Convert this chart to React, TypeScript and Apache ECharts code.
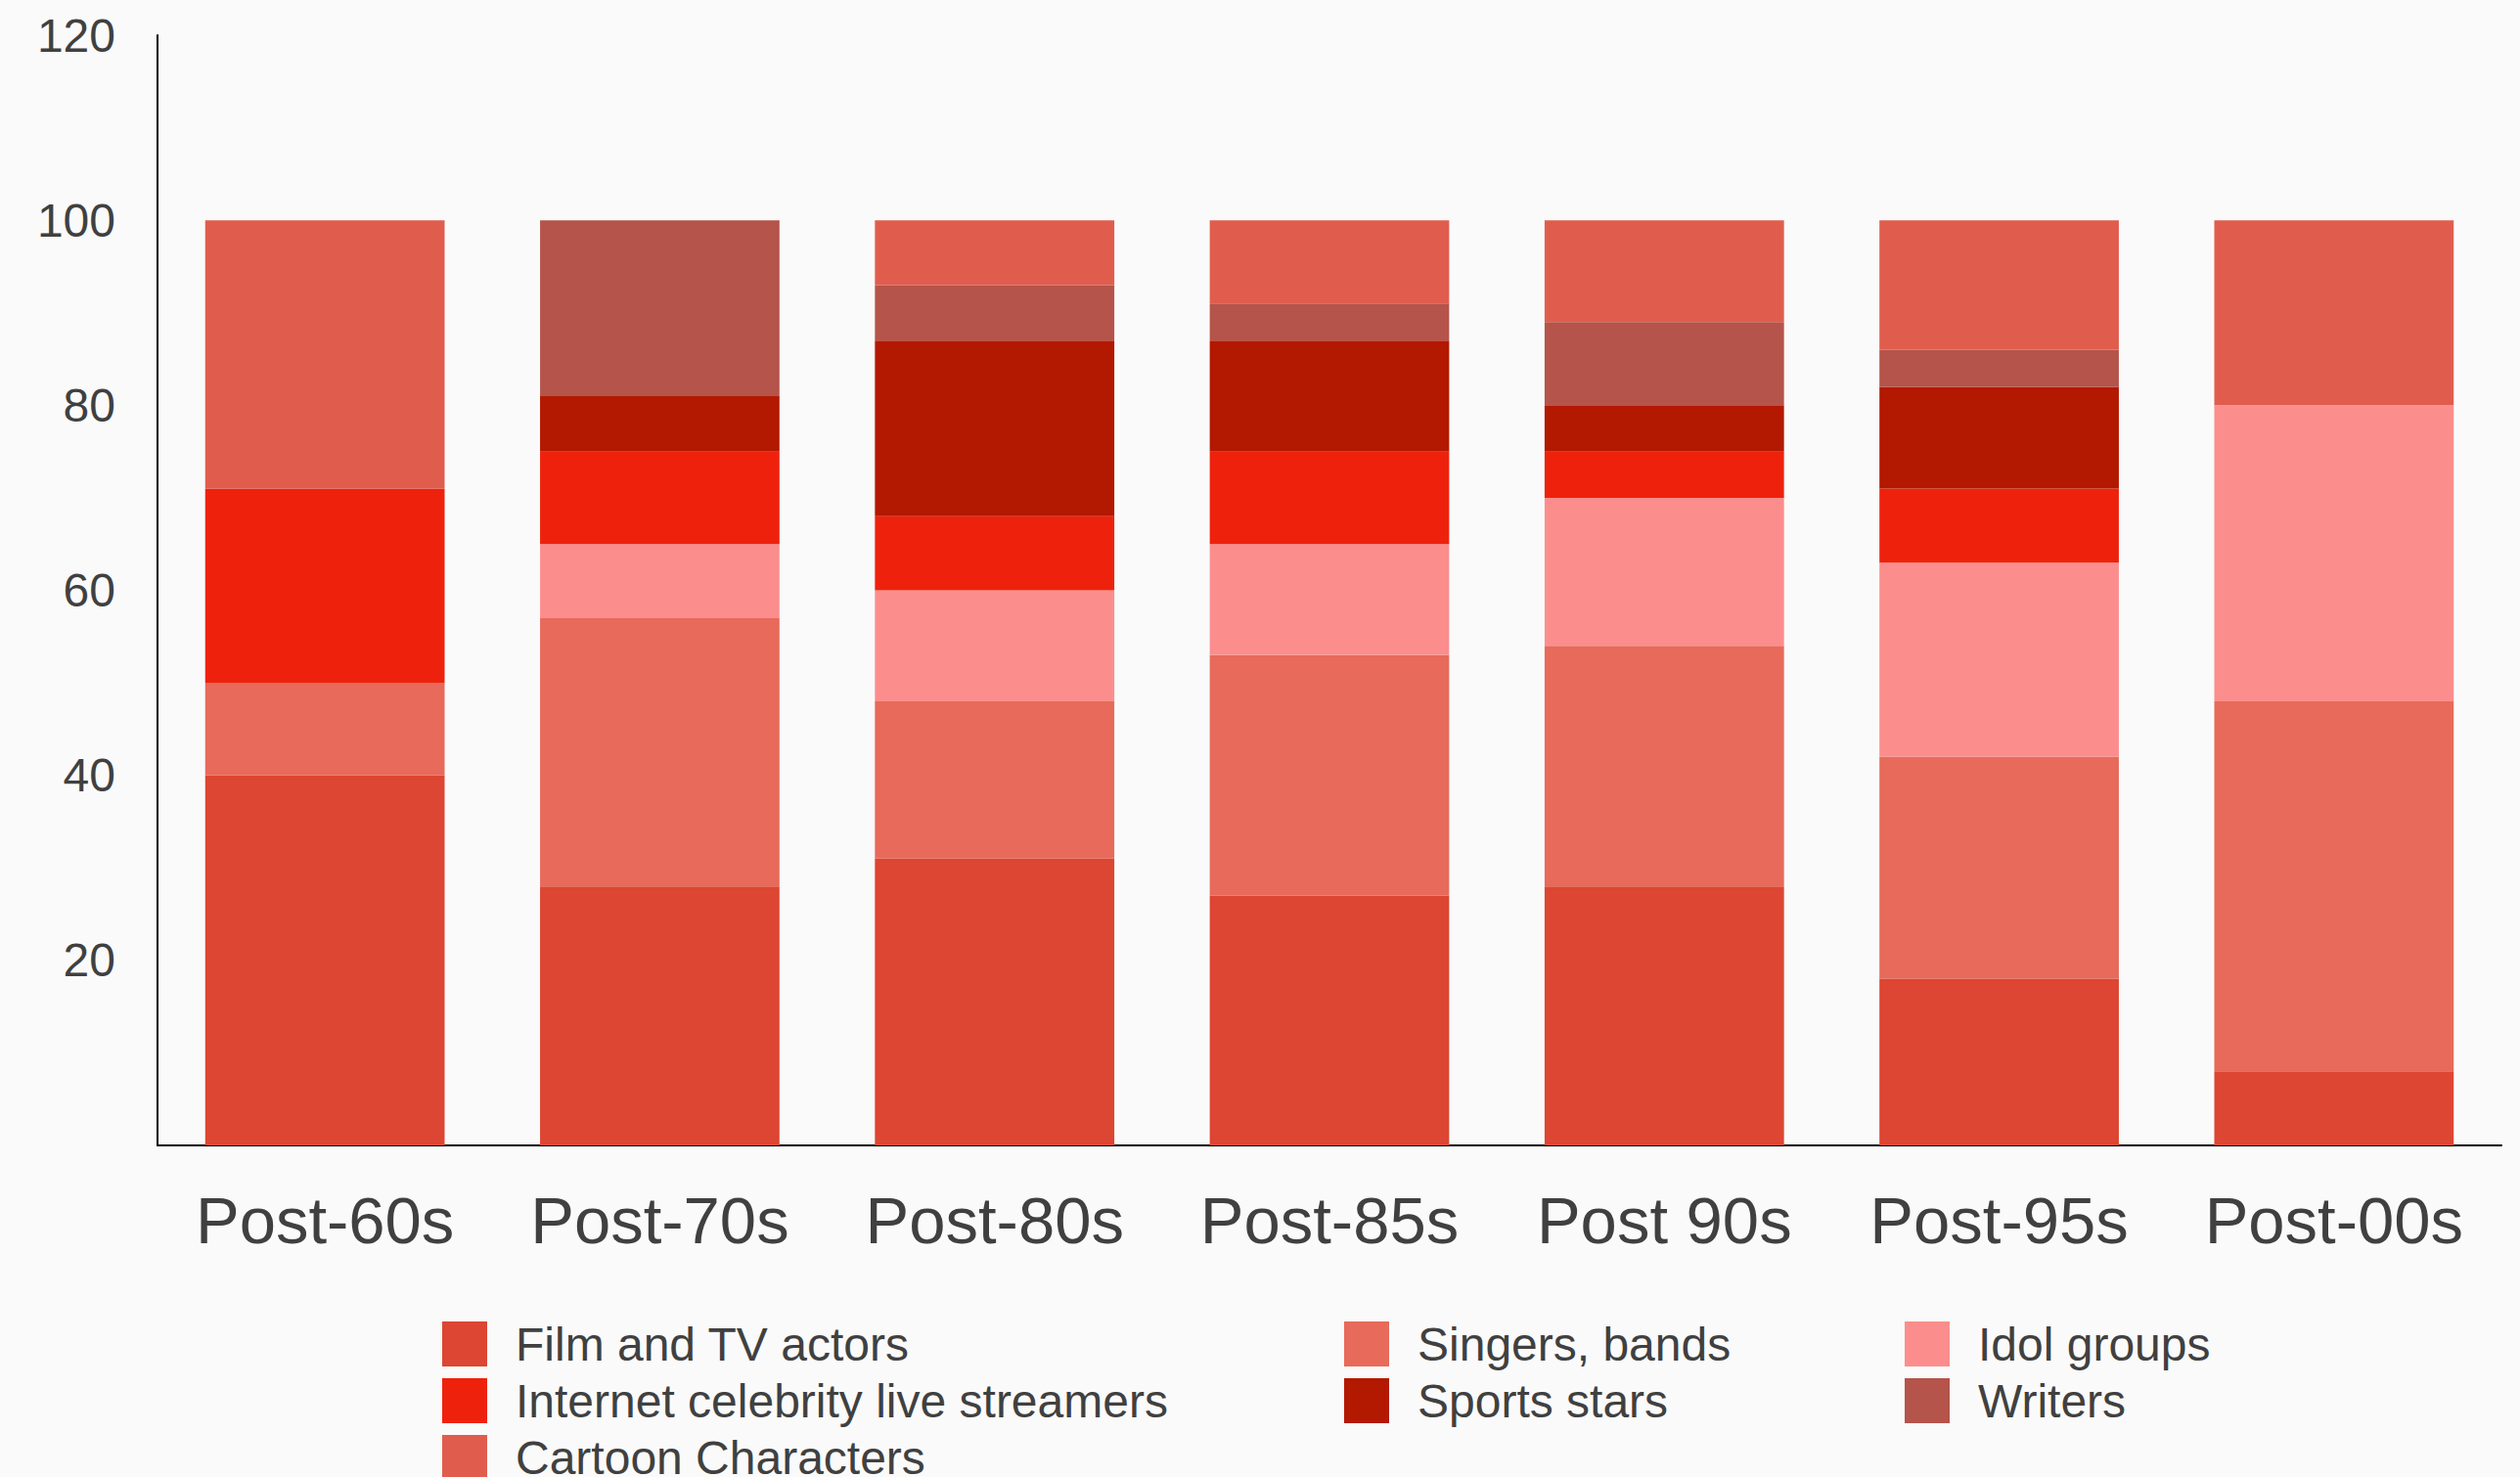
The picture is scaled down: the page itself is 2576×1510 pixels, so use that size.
import React, { useEffect, useRef } from "react";
import * as echarts from "echarts";

const categories = ["Post-60s", "Post-70s", "Post-80s", "Post-85s", "Post 90s", "Post-95s", "Post-00s"];
const filmTvActors = [40, 28, 31, 27, 28, 18, 8];
const singersBands = [10, 29, 17, 26, 26, 24, 40];
const idolGroups = [0, 8, 12, 12, 16, 21, 32];
const internetStreamers = [21, 10, 8, 10, 5, 8, 0];
const sportsStars = [0, 6, 19, 12, 5, 11, 0];
const writers = [0, 19, 6, 4, 9, 4, 0];
const cartoonCharacters = [29, 0, 7, 9, 11, 14, 20];
const yTicks = [0, 20, 40, 60, 80, 100, 120];

const seriesDefs = [
  { name: "Film and TV actors", data: filmTvActors, color: "#DC4632" },
  { name: "Singers, bands", data: singersBands, color: "#E76A5A" },
  { name: "Idol groups", data: idolGroups, color: "#FB8E8D" },
  { name: "Internet celebrity live streamers", data: internetStreamers, color: "#EE220C" },
  { name: "Sports stars", data: sportsStars, color: "#B31800" },
  { name: "Writers", data: writers, color: "#B5544A" },
  { name: "Cartoon Characters", data: cartoonCharacters, color: "#E05D4E" },
];

const legendColumns = [
  ["Film and TV actors", "Internet celebrity live streamers", "Cartoon Characters"],
  ["Singers, bands", "Sports stars"],
  ["Idol groups", "Writers"],
];
const legendLefts = [447, 1369, 1942];

const FONT = "'Liberation Sans', Arial, Helvetica, sans-serif";
const TEXT = "#404040";

export default function App() {
  const ref = useRef<HTMLDivElement>(null);
  useEffect(() => {
    document.body.style.margin = "0";
    document.body.style.background = "#fafafa";
    if (!ref.current) return;
    const chart = echarts.init(ref.current, null, { renderer: "svg" });
    chart.setOption({
      animation: false,
      backgroundColor: "#fafafa",
      textStyle: { fontFamily: FONT },
      grid: { left: 161, right: 19, top: 36, bottom: 339, containLabel: false },
      legend: legendColumns.map((col, i) => ({
        data: col,
        orient: "vertical",
        left: legendLefts[i],
        top: 1345,
        height: 300,
        itemWidth: 46,
        itemHeight: 46,
        itemGap: 10,
        icon: "rect",
        selectedMode: false,
        textStyle: { fontSize: 48, color: TEXT, fontFamily: FONT, lineHeight: 46, padding: [0, 0, 0, 24] },
      })),
      xAxis: {
        type: "category",
        data: categories,
        axisLine: { show: true, lineStyle: { color: "#000", width: 2 } },
        axisTick: { show: false },
        axisLabel: { fontSize: 67, color: TEXT, margin: 43, fontFamily: FONT, interval: 0, hideOverlap: false },
        splitLine: { show: false },
      },
      yAxis: {
        type: "value",
        min: yTicks[0],
        max: yTicks[yTicks.length - 1],
        interval: 20,
        axisLine: { show: true, lineStyle: { color: "#000", width: 2 } },
        axisTick: { show: false },
        splitLine: { show: false },
        axisLabel: { fontSize: 48, color: TEXT, margin: 43, showMinLabel: false, fontFamily: FONT },
      },
      series: seriesDefs.map((s) => ({
        name: s.name,
        type: "bar",
        stack: "total",
        data: s.data,
        barWidth: "71.5%",
        itemStyle: { color: s.color },
        emphasis: { disabled: true },
      })),
    });
    return () => chart.dispose();
  }, []);
  return <div ref={ref} style={{ width: 2576, height: 1510 }} />;
}
